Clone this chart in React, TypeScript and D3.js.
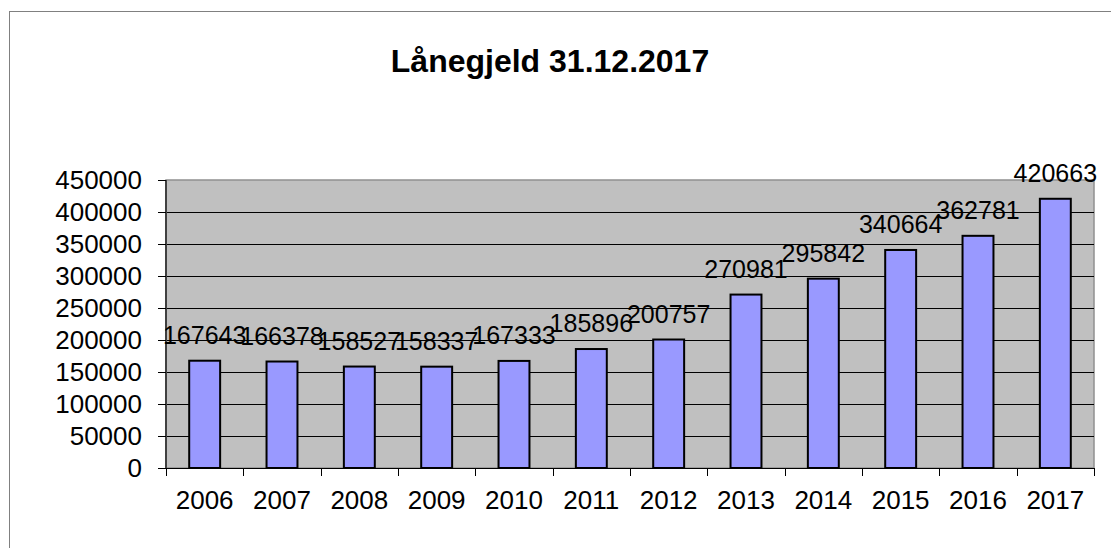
import * as d3 from "d3";
import React, { useRef, useEffect } from "react";

const years = ["2006", "2007", "2008", "2009", "2010", "2011", "2012", "2013", "2014", "2015", "2016", "2017"];
const debt = [167643, 166378, 158527, 158337, 167333, 185896, 200757, 270981, 295842, 340664, 362781, 420663];
const yTicks = [0, 50000, 100000, 150000, 200000, 250000, 300000, 350000, 400000, 450000];
const title = "Lånegjeld 31.12.2017";

const W = 1111;
const H = 548;

function App() {
  const ref = useRef<SVGSVGElement>(null);

  useEffect(() => {
    const svg = d3.select(ref.current);
    svg.selectAll("*").remove();

    const left = 166, right = 1094, top = 180, bottom = 468;
    const font = "Arial, 'Liberation Sans', sans-serif";

    // outer chart frame (right/bottom edges run off the picture)
    svg.append("rect")
      .attr("x", 9.5).attr("y", 11.5)
      .attr("width", W + 20).attr("height", H + 20)
      .attr("fill", "#fff").attr("stroke", "#808080").attr("stroke-width", 1);

    svg.append("text")
      .attr("x", 550).attr("y", 72)
      .attr("text-anchor", "middle")
      .style("font-family", font).style("font-weight", "bold").style("font-size", "32px")
      .text(title);

    const x = d3.scaleBand().domain(years).range([left, right]);
    const y = d3.scaleLinear().domain([0, 450000]).range([bottom, top]);

    // plot area
    svg.append("rect")
      .attr("x", left).attr("y", top)
      .attr("width", right - left).attr("height", bottom - top)
      .attr("fill", "#C0C0C0").attr("stroke", "#909090").attr("stroke-width", 1.5);

    // gridlines
    svg.append("g").selectAll("line")
      .data(yTicks.filter(t => t > 0 && t < 450000))
      .enter().append("line")
      .attr("x1", left).attr("x2", right)
      .attr("y1", d => Math.round(y(d)) + 0.5).attr("y2", d => Math.round(y(d)) + 0.5)
      .attr("stroke", "#000").attr("stroke-width", 1);

    // y axis
    const yAxis = svg.append("g");
    yAxis.append("line")
      .attr("x1", left).attr("x2", left).attr("y1", top).attr("y2", bottom)
      .attr("stroke", "#404040").attr("stroke-width", 2);
    yAxis.selectAll("line.tick")
      .data(yTicks).enter().append("line").attr("class", "tick")
      .attr("x1", left - 8).attr("x2", left)
      .attr("y1", d => Math.round(y(d)) + 0.5).attr("y2", d => Math.round(y(d)) + 0.5)
      .attr("stroke", "#000");
    yAxis.selectAll("text")
      .data(yTicks).enter().append("text")
      .attr("x", 142).attr("y", d => y(d) + 9)
      .attr("text-anchor", "end")
      .style("font-family", font).style("font-size", "26px")
      .text(d => String(d));

    // x axis
    const xAxis = svg.append("g");
    xAxis.append("line")
      .attr("x1", left).attr("x2", right).attr("y1", bottom + 0.5).attr("y2", bottom + 0.5)
      .attr("stroke", "#000");
    const edges = years.map(d => x(d) as number).concat([right]);
    xAxis.selectAll("line.tick")
      .data(edges).enter().append("line").attr("class", "tick")
      .attr("x1", d => Math.round(d) + 0.5).attr("x2", d => Math.round(d) + 0.5)
      .attr("y1", bottom).attr("y2", bottom + 8)
      .attr("stroke", "#000");
    xAxis.selectAll("text")
      .data(years).enter().append("text")
      .attr("x", d => (x(d) as number) + x.bandwidth() / 2).attr("y", 509)
      .attr("text-anchor", "middle")
      .style("font-family", font).style("font-size", "26px")
      .text(d => d);

    // bars
    const bw = x.bandwidth() * 0.4;
    svg.append("g").selectAll("rect")
      .data(debt).enter().append("rect")
      .attr("x", (d, i) => (x(years[i]) as number) + x.bandwidth() / 2 - bw / 2)
      .attr("y", d => y(d))
      .attr("width", bw)
      .attr("height", d => bottom - y(d))
      .attr("fill", "#9999FF").attr("stroke", "#000").attr("stroke-width", 2);

    // value labels
    svg.append("g").selectAll("text")
      .data(debt).enter().append("text")
      .attr("x", (d, i) => (x(years[i]) as number) + x.bandwidth() / 2)
      .attr("y", d => y(d) - 17)
      .attr("text-anchor", "middle")
      .style("font-family", font).style("font-size", "25px")
      .text(d => String(d));
  }, []);

  return (
    <div style={{ position: "absolute", left: 0, top: 0 }}>
      <svg ref={ref} width={W} height={H} style={{ display: "block" }}></svg>
    </div>
  );
}

export default App;
